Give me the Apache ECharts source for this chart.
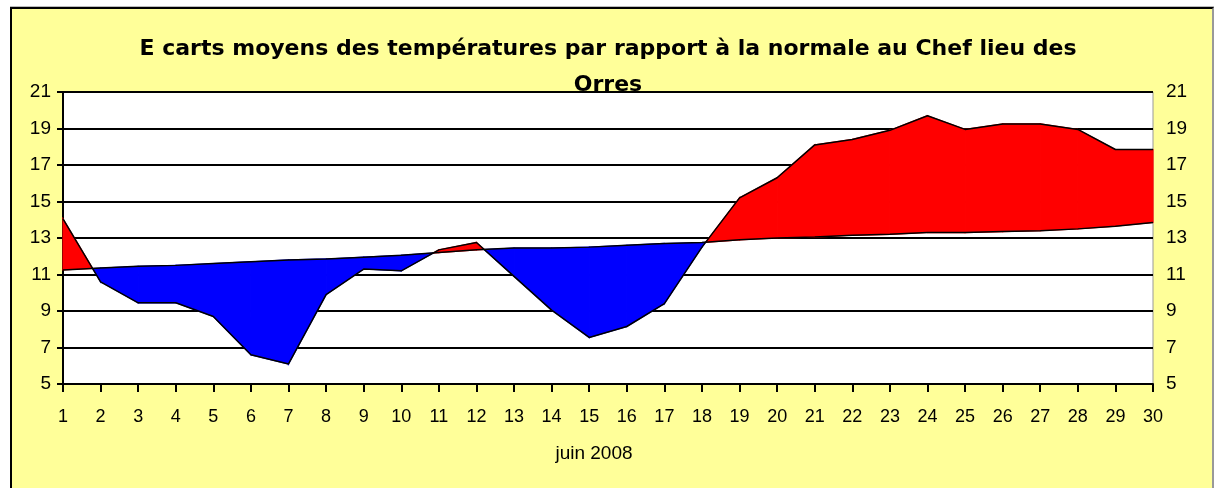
<!DOCTYPE html>
<html>
<head>
<meta charset="utf-8">
<script src="https://cdn.jsdelivr.net/npm/echarts@6/dist/echarts.min.js"></script>
<style>
  html, body { margin: 0; padding: 0; background: #fff; }
  #wrap { position: relative; width: 1216px; height: 488px; overflow: hidden; }
  #frame {
    position: absolute; left: 10px; top: 7px; width: 1200px; height: 500px;
    background: #FFFF99; border-left: 2px solid #000; border-top: 2px solid #000;
    border-right: 2px solid #999; box-shadow: 0 -1px 0 #bbb;
  }
  #main { position: absolute; left: 0; top: 0; width: 1216px; height: 488px; }
</style>
</head>
<body>
<div id="wrap">
  <div id="frame"></div>
  <div id="main"></div>
</div>
<script>
// jours de juin 2008
var days = [];
for (var d = 1; d <= 30; d++) days.push(d);

// températures observées (moyennes)
var actual = [14.05, 10.6, 9.45, 9.45, 8.7, 6.6, 6.1, 9.9, 11.3, 11.2,
              12.35, 12.75, 10.9, 9.05, 7.55, 8.15, 9.4, 12.5, 15.2, 16.3,
              18.1, 18.4, 18.9, 19.7, 18.95, 19.25, 19.25, 18.95, 17.85, 17.85];

// normale
var normal = [11.25, 11.35, 11.45, 11.5, 11.6, 11.7, 11.8, 11.85, 11.95, 12.05,
              12.2, 12.35, 12.45, 12.45, 12.5, 12.6, 12.7, 12.75, 12.9, 13.0,
              13.05, 13.15, 13.2, 13.3, 13.3, 13.35, 13.4, 13.5, 13.65, 13.85];

var RED = '#FF0000', BLUE = '#0000FF';
var FONT = 'Liberation Sans';

var myChart = echarts.init(document.getElementById('main'));

// remplissage entre les deux courbes, rouge au-dessus de la normale, bleu en dessous
function renderGap(params, api) {
    var i = api.value(1);
    var x0 = days[i], x1 = days[i + 1];
    var a0 = actual[i], a1 = actual[i + 1];
    var n0 = normal[i], n1 = normal[i + 1];
    var d0 = a0 - n0, d1 = a1 - n1;
    var P = function (x, y) { return api.coord([x, y]); };
    var children = [];
    var poly = function (pts, c) {
        children.push({ type: 'polygon', shape: { points: pts },
            style: { fill: c, stroke: c, lineWidth: 1.2 } });
    };
    if (d0 * d1 >= 0) {
        poly([P(x0, a0), P(x1, a1), P(x1, n1), P(x0, n0)], (d0 + d1) >= 0 ? RED : BLUE);
    } else {
        var t = d0 / (d0 - d1);
        var xc = x0 + t * (x1 - x0), yc = n0 + t * (n1 - n0);
        poly([P(x0, a0), P(xc, yc), P(x0, n0)], d0 > 0 ? RED : BLUE);
        poly([P(xc, yc), P(x1, a1), P(x1, n1)], d1 > 0 ? RED : BLUE);
    }
    return { type: 'group', children: children };
}

var option = {
    backgroundColor: 'transparent',
    animation: false,
    title: {
        text: 'E carts moyens des températures par rapport à la normale au Chef lieu des\nOrres',
        left: 'center',
        top: 26,
        textStyle: { fontFamily: 'DejaVu Sans', fontSize: 22, fontWeight: 'bold', color: '#000', lineHeight: 36 }
    },
    grid: {
        left: 63, right: 63, top: 92, bottom: 104,
        show: true, backgroundColor: '#fff', borderColor: '#999', borderWidth: 1
    },
    xAxis: {
        type: 'value',
        min: 1, max: 30, interval: 1,
        name: 'juin 2008',
        nameLocation: 'middle',
        nameGap: 60,
        nameTextStyle: { fontFamily: FONT, fontSize: 19, color: '#000', verticalAlign: 'top', padding: [0, 28, 0, 0] },
        axisLine: { show: true, onZero: false, lineStyle: { color: '#000', width: 2 } },
        axisTick: { show: true, length: 8, lineStyle: { color: '#000', width: 2 } },
        splitLine: { show: false },
        axisLabel: { fontFamily: FONT, fontSize: 18, color: '#000', margin: 24 }
    },
    yAxis: [
        {
            type: 'value', min: 5, max: 21, interval: 2,
            axisLine: { show: true, lineStyle: { color: '#000', width: 2 } },
            axisTick: { show: true, length: 6, lineStyle: { color: '#000', width: 2 } },
            splitLine: { show: true, lineStyle: { color: '#000', width: 2 } },
            axisLabel: { fontFamily: FONT, fontSize: 19, color: '#000', margin: 12 }
        },
        {
            type: 'value', min: 5, max: 21, interval: 2, position: 'right',
            axisLine: { show: false },
            axisTick: { show: false },
            splitLine: { show: false },
            axisLabel: { fontFamily: FONT, fontSize: 19, color: '#000', margin: 13 }
        }
    ],
    series: [
        {
            type: 'custom',
            renderItem: renderGap,
            data: days.slice(0, -1).map(function (d, i) { return [d, i]; }),
            encode: { x: 0 },
            z: 2,
            silent: true
        },
        {
            type: 'line',
            data: days.map(function (d, i) { return [d, actual[i]]; }),
            symbol: 'none',
            lineStyle: { color: '#000', width: 1.5 },
            z: 3
        },
        {
            type: 'line',
            data: days.map(function (d, i) { return [d, normal[i]]; }),
            symbol: 'none',
            lineStyle: { color: '#000', width: 1.5 },
            z: 3
        }
    ]
};
myChart.setOption(option);
</script>
</body>
</html>
